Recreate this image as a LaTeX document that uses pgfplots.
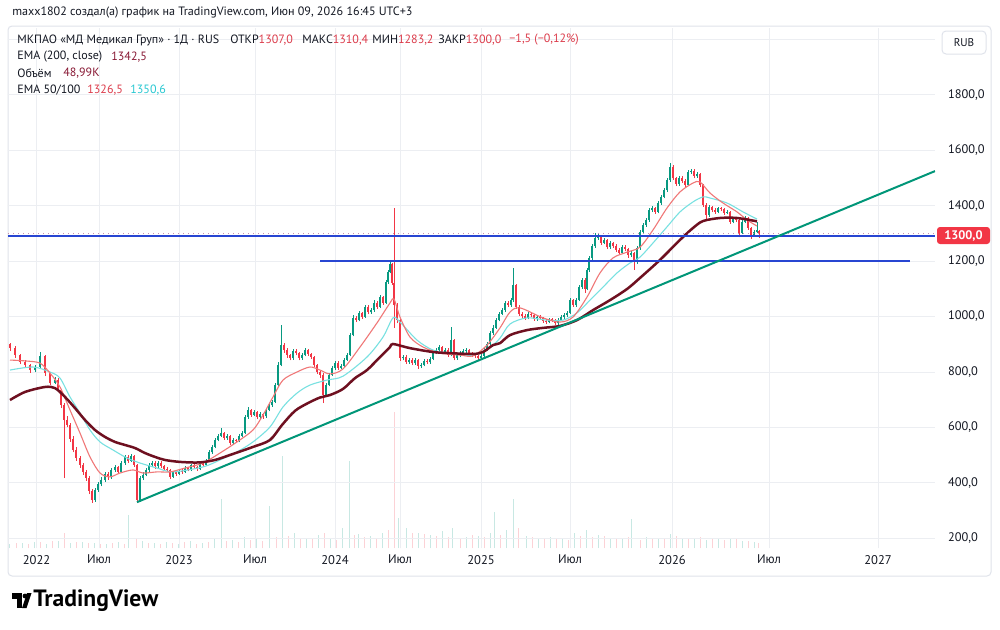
\documentclass[border=0pt]{standalone}
\usepackage{fontspec}
\setmainfont{PT Sans}
\usepackage{pgfplots}
\usepackage{pgfplotstable}
\pgfplotsset{compat=1.18}
\definecolor{tvgreen}{RGB}{8,153,129}
\definecolor{tvred}{RGB}{242,54,69}
\definecolor{emaA}{RGB}{110,16,32}
\definecolor{emaB}{RGB}{240,120,120}
\definecolor{emaC}{RGB}{120,225,225}
\definecolor{hblue}{RGB}{40,70,210}
\definecolor{trend}{RGB}{0,150,120}
\definecolor{gridc}{RGB}{236,238,242}
\definecolor{tvtext}{RGB}{19,23,34}
\definecolor{framec}{RGB}{224,227,235}
\definecolor{valred}{RGB}{220,60,75}
\definecolor{valmar}{RGB}{136,24,52}
\definecolor{valcyan}{RGB}{40,200,210}
\newcommand\fs[1]{\fontsize{#1}{#1}\selectfont}

\pgfplotstableread{
x o c h l
35 807 818 826 800
40 818 858 872 812
55 760 771 782 755
95 339 375 382 332
98 375 395 402 368
101 395 411 420 388
105 411 432 440 405
111 420 447 455 415
115 447 458 466 440
121 440 472 480 435
125 472 494 502 466
131 480 497 505 475
140 340 418 425 332
143 418 430 438 410
146 430 447 455 424
149 447 465 472 440
152 465 472 480 458
158 460 472 480 455
173 422 438 445 418
179 432 445 450 428
185 440 454 460 436
191 447 465 470 443
200 450 472 478 446
206 466 479 485 462
209 479 510 518 475
212 510 530 538 505
215 530 555 562 525
218 555 570 578 550
221 570 580 598 565
227 562 570 576 556
233 544 555 562 540
239 551 570 576 546
242 570 580 588 565
245 580 638 645 576
248 638 663 674 632
254 645 655 662 640
260 638 649 656 632
266 640 663 670 636
269 663 680 688 658
272 680 692 700 675
275 692 753 760 688
278 753 825 835 748
281 825 897 969 820
293 850 875 882 845
302 850 861 868 845
305 861 879 886 856
326 717 753 760 710
329 753 790 798 748
332 790 814 822 785
335 814 832 840 808
341 815 822 830 810
344 822 845 852 818
347 845 861 870 840
350 861 933 942 856
353 933 995 1005 928
359 987 1012 1020 982
365 1000 1034 1042 995
371 1015 1023 1030 1010
374 1023 1049 1058 1018
380 1035 1070 1078 1030
386 1049 1124 1132 1044
388 1124 1160 1168 1118
390 1160 1189 1196 1155
403 850 854 862 842
409 836 845 852 830
415 832 843 850 826
421 820 825 832 814
424 825 840 846 820
430 835 847 855 830
433 847 870 876 842
436 870 879 886 864
439 879 890 898 872
445 872 880 888 866
451 861 915 962 856
457 850 860 866 844
460 860 868 874 854
463 868 875 882 862
466 875 879 886 870
481 850 858 864 845
484 858 880 886 852
487 880 901 908 875
490 901 941 948 896
493 941 960 968 935
496 960 987 995 955
499 987 1010 1018 982
502 1010 1023 1030 1004
505 1023 1049 1056 1018
511 1040 1059 1066 1035
513 1059 1113 1175 1054
528 995 1010 1016 990
537 990 998 1004 985
549 980 990 996 975
558 975 987 993 970
561 987 998 1004 982
564 998 1005 1012 992
567 1005 1013 1020 1000
570 1013 1059 1066 1008
576 1041 1060 1068 1036
579 1060 1106 1114 1055
582 1106 1132 1140 1100
587 1100 1168 1176 1095
589 1168 1211 1218 1162
592 1211 1254 1262 1205
595 1254 1283 1301 1248
598 1283 1290 1298 1276
604 1265 1275 1282 1260
610 1250 1265 1272 1245
622 1229 1250 1256 1224
631 1220 1229 1236 1214
637 1196 1247 1254 1190
640 1247 1305 1312 1240
643 1305 1330 1338 1300
646 1330 1348 1356 1324
649 1348 1384 1392 1342
652 1384 1391 1400 1376
658 1377 1409 1416 1372
661 1409 1431 1438 1402
664 1431 1456 1464 1426
667 1456 1492 1500 1450
670 1492 1539 1553 1486
679 1478 1500 1508 1472
688 1474 1521 1528 1470
691 1521 1524 1532 1514
697 1505 1514 1520 1500
709 1366 1395 1402 1360
718 1377 1390 1396 1372
727 1373 1377 1384 1368
733 1341 1350 1358 1336
742 1301 1341 1348 1296
745 1341 1355 1362 1336
754 1294 1305 1312 1288
757 1305 1312 1340 1300
}\upcandles

\pgfplotstableread{
x o c h l
10 900 886 905 875
15 886 861 892 852
20 861 836 866 828
25 836 825 845 818
30 825 807 830 798
45 858 796 862 785
50 796 760 800 752
58 771 735 778 728
61 735 681 740 670
64 681 627 690 418
67 627 609 640 600
70 609 560 615 548
73 560 520 570 510
76 520 490 528 480
80 490 465 498 455
83 465 440 472 430
86 440 418 448 408
89 418 370 425 360
92 370 339 378 328
108 432 420 438 412
118 458 440 462 432
128 494 480 500 472
134 497 465 500 458
137 465 340 470 328
155 472 460 478 452
161 472 461 478 455
164 461 452 466 445
167 452 447 458 440
170 447 422 452 415
176 438 432 442 426
182 445 440 450 434
188 454 447 458 442
194 465 458 470 452
197 458 450 462 445
203 472 466 478 460
224 580 562 585 555
230 570 544 574 538
236 555 551 560 545
251 663 645 668 638
257 655 638 660 630
263 649 640 654 632
284 897 879 905 870
287 879 860 885 852
290 860 850 866 842
296 875 868 882 860
299 868 850 872 842
308 879 865 884 858
311 865 854 870 848
314 854 825 858 818
317 825 800 830 792
320 800 789 806 780
323 789 717 795 688
338 832 815 838 808
356 995 987 1002 980
362 1012 1000 1018 992
368 1034 1015 1040 1008
377 1049 1035 1055 1028
383 1070 1049 1075 1042
392 1189 1121 1194 1115
394 1121 1041 1391 959
397 1041 987 1048 975
400 987 850 992 840
406 854 836 860 828
412 845 832 850 825
418 843 820 848 812
427 840 835 846 828
442 890 872 895 866
448 880 861 885 854
454 915 850 920 842
469 879 868 884 862
472 868 860 872 854
475 860 858 866 850
478 858 850 862 844
508 1049 1040 1055 1034
516 1113 1034 1118 1028
519 1034 1010 1040 1002
522 1010 1002 1016 995
525 1002 995 1008 988
531 1010 1005 1015 998
534 1005 990 1010 984
540 998 995 1004 988
543 995 985 1000 978
546 985 980 990 972
552 990 987 995 980
555 987 975 992 968
573 1059 1041 1064 1035
585 1132 1100 1138 1085
601 1290 1265 1295 1258
607 1275 1250 1280 1243
613 1265 1255 1270 1248
616 1255 1240 1260 1232
619 1240 1229 1246 1222
625 1250 1243 1256 1236
628 1243 1220 1248 1212
634 1229 1196 1234 1168
655 1391 1377 1396 1370
673 1539 1499 1545 1492
676 1499 1478 1504 1470
682 1500 1489 1506 1482
685 1489 1474 1494 1466
694 1524 1505 1530 1498
700 1514 1474 1518 1466
703 1474 1402 1478 1395
706 1402 1366 1408 1345
712 1395 1384 1400 1376
715 1384 1377 1390 1370
721 1390 1387 1395 1380
724 1387 1373 1392 1366
730 1377 1341 1382 1334
736 1350 1348 1356 1340
739 1348 1301 1352 1285
748 1355 1319 1360 1312
751 1319 1294 1324 1280
759 1307 1300 1310.4 1283.2
}\downcandles

\pgfplotstableread{
x y
10 699
25 728
45 746
55 742
65 710
75 670
85 627
95 591
105 566
115 548
125 537
135 526
145 508
155 494
165 483
180 476
199 474
215 483
230 501
253 530
270 555
282 609
295 660
308 688
320 708
330 717
343 739
355 778
367 807
380 854
390 890
393 901
410 886
433 872
450 868
473 865
483 872
493 897
500 904
510 933
527 951
543 959
560 966
577 987
593 1023
610 1059
627 1099
640 1139
660 1204
680 1276
693 1319
703 1344
720 1355
737 1355
757 1343
}\emaTwoHundred

\pgfplotstableread{
x y
10 843
25 840
40 832
50 796
60 746
70 663
80 580
90 494
100 436
110 422
120 436
133 447
143 436
157 440
170 440
185 454
203 472
220 508
237 548
253 591
263 645
273 710
283 771
297 800
310 818
320 807
330 793
343 811
360 890
377 977
390 1049
394 1063
400 998
410 926
423 890
440 868
460 861
473 858
487 897
500 959
510 1016
520 1031
543 995
560 980
573 998
587 1070
600 1157
613 1211
627 1232
640 1250
653 1312
667 1391
680 1449
693 1481
700 1485
710 1445
723 1409
737 1377
747 1348
757 1326
}\emaFifty

\pgfplotstableread{
x y
10 807
33 818
50 800
60 778
70 710
80 652
90 591
100 548
113 519
127 490
140 472
157 454
173 440
203 458
220 483
237 512
253 548
270 602
283 674
297 724
310 753
327 771
343 785
367 854
383 926
393 995
400 980
417 915
433 879
450 868
473 861
490 890
500 922
510 973
527 995
547 987
563 987
577 1013
590 1059
603 1106
617 1157
630 1193
640 1214
653 1265
667 1323
680 1377
693 1413
703 1431
710 1427
727 1409
743 1377
757 1351
}\emaHundred

\pgfplotstableread{
x v
10 8
22 10
34 12
46 8
58 14
70 10
82 12
94 10
106 8
118 12
128 66
142 14
154 10
166 12
178 8
190 14
202 10
214 20
221 98
232 16
244 22
256 18
269 84
282 184
294 30
306 20
318 26
330 18
342 40
349 174
358 28
370 24
382 30
398 60
406 40
418 30
430 26
442 34
452 40
466 22
478 24
490 30
494 72
506 36
513 98
526 24
538 20
550 22
562 18
574 30
586 36
598 26
610 20
622 18
631 58
646 22
658 20
670 28
682 18
694 20
706 16
718 18
730 20
742 14
754 12
}\volgreen

\pgfplotstableread{
x v
16 10
28 8
40 12
52 14
64 30
76 12
88 10
100 8
112 10
124 8
136 20
148 10
160 8
172 10
184 12
196 8
208 12
226 14
238 12
250 16
262 14
276 22
288 24
300 18
312 20
324 30
336 16
354 26
364 22
376 20
388 36
394 272
400 80
412 30
424 28
436 24
448 22
460 20
472 26
484 22
500 26
518 40
532 22
544 18
556 20
568 16
580 24
592 22
604 24
616 18
628 22
640 16
652 18
664 20
676 24
688 18
700 22
712 20
724 16
736 18
748 14
758 10
}\volred

\begin{document}
\begin{tikzpicture}
\begin{scope}[x=0.5pt,y=0.5pt]
\fill[white] (0,0) rectangle (1000,629);
\draw[framec, line width=0.5pt, rounded corners=2pt] (8,603) rectangle (991,53);
\end{scope}

% volume pane
\begin{axis}[at={(4pt,40.5pt)}, anchor=south west, scale only axis,
  width=463.5pt, height=260pt, xmin=8, xmax=935, ymin=0, ymax=1040, hide axis]
\addplot[ycomb, mark=none, color=tvgreen, opacity=0.22, line width=0.5pt] table[x=x,y=v] \volgreen;
\addplot[ycomb, mark=none, color=tvred, opacity=0.22, line width=0.5pt] table[x=x,y=v] \volred;
\end{axis}

% price pane
\begin{axis}[at={(4pt,40.5pt)}, anchor=south west, scale only axis,
  width=463.5pt, height=260pt,
  xmin=8, xmax=935, ymin=165.7, ymax=2039.7,
  axis line style={draw=none}, tick style={draw=none},
  major tick length=0pt,
  grid=major, major grid style={color=gridc, line width=0.5pt},
  ytick={200,400,600,800,1000,1200,1400,1600,1800,2000},
  yticklabels={{200,0},{400,0},{600,0},{800,0},{1000,0},{1200,0},{1400,0},{1600,0},{1800,0},{}},
  yticklabel pos=right,
  y tick label style={font=\fs{6.2}, text=tvtext, anchor=west, xshift=3pt},
  xtick={36.5,99,179,255,335,400,481,570,672,769,878},
  xticklabels={2022,Июл,2023,Июл,2024,Июл,2025,Июл,2026,Июл,2027},
  x tick label style={font=\fs{6.3}, text=tvtext},
  clip=true]
% wicks
\addplot[draw=none, mark=none, forget plot, error bars/.cd, y dir=plus, y explicit, error mark=none,
  error bar style={draw=tvgreen, line width=0.3pt}]
  table[x=x, y=l, y error expr=\thisrow{h}-\thisrow{l}] \upcandles;
\addplot[draw=none, mark=none, forget plot, error bars/.cd, y dir=plus, y explicit, error mark=none,
  error bar style={draw=tvred, line width=0.3pt}]
  table[x=x, y=l, y error expr=\thisrow{h}-\thisrow{l}] \downcandles;
% bodies
\addplot[draw=none, mark=none, forget plot, error bars/.cd, y dir=plus, y explicit, error mark=none,
  error bar style={draw=tvgreen, line width=0.85pt}]
  table[x=x, y=o, y error expr=\thisrow{c}-\thisrow{o}] \upcandles;
\addplot[draw=none, mark=none, forget plot, error bars/.cd, y dir=minus, y explicit, error mark=none,
  error bar style={draw=tvred, line width=0.85pt}]
  table[x=x, y=o, y error expr=\thisrow{o}-\thisrow{c}] \downcandles;
% EMAs
\addplot[color=emaC, line width=0.55pt, smooth, mark=none] table[x=x,y=y] \emaHundred;
\addplot[color=emaB, line width=0.55pt, smooth, mark=none] table[x=x,y=y] \emaFifty;
\addplot[color=emaA, line width=1.25pt, smooth, mark=none] table[x=x,y=y] \emaTwoHundred;
% drawings
\addplot[color=tvred!60!hblue!60, dotted, line width=0.5pt, mark=none] coordinates {(8,1300) (935,1300)};
\addplot[color=hblue, line width=1pt, mark=none] coordinates {(8,1290) (935,1290)};
\addplot[color=hblue, line width=1pt, mark=none] coordinates {(320,1200) (910,1200)};
\addplot[color=trend, line width=1pt, mark=none] coordinates {(137,331) (935,1524)};
\end{axis}

\begin{scope}[x=0.5pt,y=0.5pt]
% price label and RUB button
\fill[tvred, rounded corners=1.5pt] (937,402) rectangle (990,385);
\node[text=white, font=\bfseries\fs{6.2}, inner sep=0] at (963.5,393.5) {1300,0};
\draw[framec, fill=white, rounded corners=2pt, line width=0.5pt] (942,598) rectangle (986,575);
\node[text=tvtext, font=\fs{5.6}, inner sep=0] at (964,586.5) {RUB};

% header
\node[anchor=west, inner sep=0, text=tvtext, font=\fs{6.05}] at (12,616) {maxx1802 создал(а) график на TradingView.com, Июн 09, 2026 16:45 UTC+3};

% legend
\begin{scope}[every node/.style={anchor=west, inner sep=0, font=\fs{6.0}}]
\node[text=tvtext] at (17,589) {МКПАО «МД Медикал Груп» · 1Д · RUS};
\node[text=tvtext] at (230,589) {ОТКР\textcolor{valred}{1307,0}};
\node[text=tvtext] at (302,589) {МАКС\textcolor{valred}{1310,4}};
\node[text=tvtext] at (372,589) {МИН\textcolor{valred}{1283,2}};
\node[text=tvtext] at (438,589) {ЗАКР\textcolor{valred}{1300,0}};
\node[text=valred] at (509,589) {−1,5 (−0,12\%)};
\node[text=tvtext] at (17,572) {EMA (200, close)};
\node[text=valmar] at (111,572) {1342,5};
\node[text=tvtext] at (17,556) {Объём};
\node[text=valmar] at (63,556) {48,99K};
\node[text=tvtext] at (17,539) {EMA 50/100};
\node[text=valred] at (87,539) {1326,5};
\node[text=valcyan] at (130,539) {1350,6};
\end{scope}

% TradingView logo
\fill[black] (12,36) rectangle (21.5,30.5);
\fill[black] (16.5,36) rectangle (21.5,21);
\fill[black] (25,33) circle (2.4);
\fill[black] (22,21) -- (26.5,21) -- (31.5,36) -- (27,36) -- cycle;
\node[anchor=west, inner sep=0, text=black, font=\bfseries\fs{11.8}] at (33,28.5) {TradingView};
\end{scope}
\end{tikzpicture}
\end{document}
